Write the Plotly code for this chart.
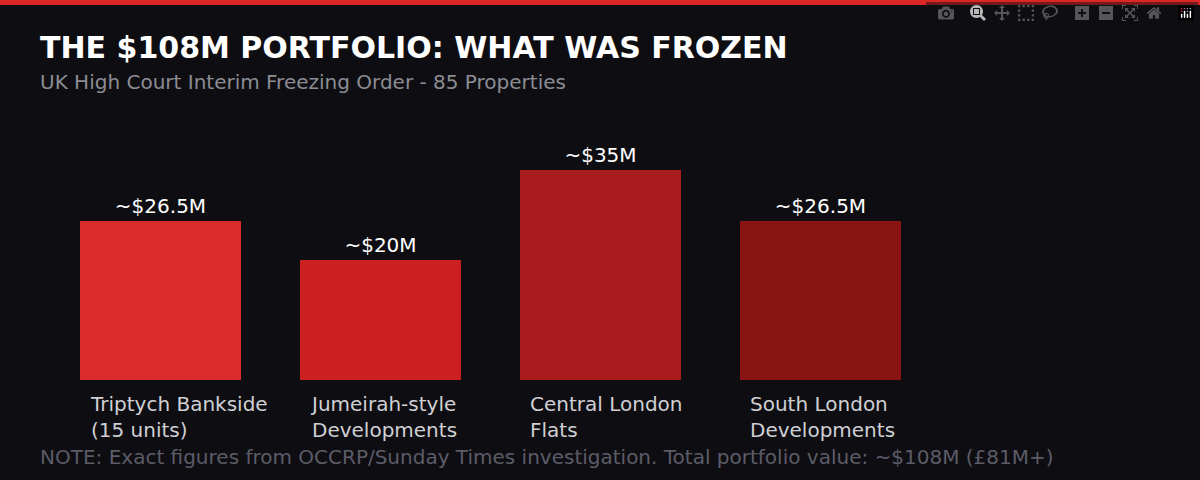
import plotly.graph_objects as go

categories = ["Triptych Bankside<br>(15 units)", "Jumeirah-style<br>Developments", "Central London<br>Flats", "South London<br>Developments"]
values = [26.5, 20, 35, 26.5]
value_labels = ["~$26.5M", "~$20M", "~$35M", "~$26.5M"]
colors = ["#dc2b2b", "#cc2020", "#aa1b1e", "#8a1414"]

W, H = 1200, 480
x = list(range(len(values)))
fig = go.Figure(go.Bar(
    x=x, y=values, width=161/220, marker=dict(color=colors, line=dict(width=0)),
    text=value_labels, textposition="outside", cliponaxis=False,
    textfont=dict(color="#ffffff", size=20, family="DejaVu Sans"), hoverinfo="skip"))

for i, c in enumerate(categories):
    fig.add_annotation(x=i - 161/440 + 8/220, xref="x", y=1 - 390/H, yref="paper",
                       text=c, showarrow=False, xanchor="left", yanchor="top", align="left",
                       font=dict(color="#d0d0d4", size=20, family="DejaVu Sans"))

fig.add_annotation(x=38/W, y=1 - 48/H, xref="paper", yref="paper", xanchor="left", yanchor="middle",
                   text="<b>THE $108M PORTFOLIO: WHAT WAS FROZEN</b>", showarrow=False,
                   font=dict(color="#ffffff", size=30, family="DejaVu Sans"))
fig.add_annotation(x=38/W, y=1 - 82/H, xref="paper", yref="paper", xanchor="left", yanchor="middle",
                   text="UK High Court Interim Freezing Order - 85 Properties", showarrow=False,
                   font=dict(color="#8c8c94", size=20, family="DejaVu Sans"))
fig.add_annotation(x=38/W, y=1 - 457/H, xref="paper", yref="paper", xanchor="left", yanchor="middle",
                   text="NOTE: Exact figures from OCCRP/Sunday Times investigation. Total portfolio value: ~$108M (£81M+)",
                   showarrow=False, font=dict(color="#5c5c68", size=20, family="DejaVu Sans"))
fig.add_shape(type="rect", xref="paper", yref="paper", x0=0, x1=1, y0=1 - 5/H, y1=1,
              fillcolor="#dc2626", line=dict(width=0))

fig.update_layout(
    width=W, height=H, margin=dict(l=0, r=0, t=0, b=0),
    paper_bgcolor="#0e0e12", plot_bgcolor="#0e0e12", showlegend=False,
    xaxis=dict(range=[-160.5/220, (W-160.5)/220], visible=False),
    yaxis=dict(range=[-100/6, 380/6], visible=False),
)
fig.write_html("out.html", post_script="document.body.style.margin='0';document.body.style.background='#0e0e12';")
